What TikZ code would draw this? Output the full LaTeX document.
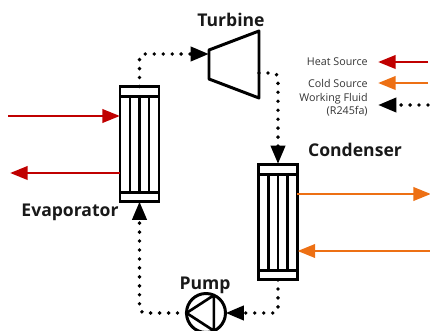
\documentclass[tikz,border=0pt]{standalone}
\usepackage{xcolor}
\usepackage{fontspec}
\setmainfont{Open Sans}
\usepackage{tikz}
\usetikzlibrary{arrows.meta,calc}
\definecolor{heatred}{HTML}{C00000}
\definecolor{coldorange}{HTML}{ED7014}
\tikzstyle{hxbox}=[draw,line width=1.7pt,minimum width=0.78cm,minimum height=2.3cm,inner sep=0pt,outer sep=0pt]
\tikzstyle{unit}=[font=\bfseries\fontsize{10}{12}\selectfont,text=black!90,inner sep=0pt]
\tikzstyle{legend}=[font=\fontsize{6.1}{7.2}\selectfont,text=black!80,align=right,anchor=east,inner sep=0pt]
\tikzstyle{heat}=[draw=heatred,line width=1.7pt,-{Triangle[length=10pt,width=7.5pt,fill=heatred]}]
\tikzstyle{cold}=[draw=coldorange,line width=1.7pt,-{Triangle[length=10pt,width=7.5pt,fill=coldorange]}]
\tikzstyle{fluid}=[draw=black,line width=2.2pt,line cap=round,dash pattern=on 0pt off 5.1pt,rounded corners=3pt,-{Triangle[length=10.5pt,width=8pt,fill=black,line cap=butt]}]
\begin{document}
\begin{tikzpicture}[x=0.02cm,y=-0.02cm]
\useasboundingbox (0,0) rectangle (430,331);

\node[hxbox] (evap) at (139.5,144) {};
\node[hxbox,minimum height=2.32cm] (cond) at (278,222) {};
\foreach \hx in {evap,cond} {
	\draw[line width=1.7pt] ($(\hx.north west)+(0,10)$) -- ($(\hx.north east)+(0,10)$);
	\draw[line width=1.7pt] ($(\hx.south west)+(0,-9)$) -- ($(\hx.south east)+(0,-9)$);
	\foreach \dx in {10,19.5,29}
		\draw[line width=1.5pt] ($(\hx.north west)+(\dx,10)$) -- ($(\hx.south west)+(\dx,-9)$);
}

% turbine
\coordinate (t1) at (209,50);
\coordinate (t2) at (259,31);
\coordinate (t3) at (259,98);
\coordinate (t4) at (209,79);
\draw[line width=1.7pt,line join=round] (t1) -- (t2) -- (t3) -- (t4) -- cycle;
\coordinate (turbin) at (209,54);
\coordinate (turbout) at (259,73);

% pump
\node[draw,circle,line width=1.7pt,minimum size=0.78cm,inner sep=0pt,outer sep=0pt] (pump) at (206,313) {};
\draw[line width=1.5pt,line join=round] (pump.west) -- (pump.66) -- (pump.-66) -- cycle;

% labels
\node[unit] (turblabel) at (231,20) {Turbine};
\node[unit] (condlabel) at (355,150) {Condenser};
\node[unit] (evaplabel) at (70,212) {Evaporator};
\node[unit] (pumplabel) at (205,285) {Pump};

% working fluid
\draw[fluid] (evap.north) |- (turbin);
\draw[fluid] (turbout) -| (cond.north);
\draw[fluid] (cond.south) |- (pump.east);
\draw[fluid] (pump.west) -| (evap.south);

% heat source and cold source
\coordinate (heatin) at (8,116);
\coordinate (heatout) at (10,173);
\coordinate (coldout) at (431,194);
\coordinate (coldin) at (431,251);
\draw[heat] (heatin) -- (heatin -| evap.west);
\draw[heat] (heatout -| evap.west) -- (heatout);
\draw[cold] (coldout -| cond.east) -- (coldout);
\draw[cold] (coldin) -- (coldin -| cond.east);

% legend
\node[legend] (heatlabel) at (368,62) {Heat Source};
\node[legend] (coldlabel) at (368,83) {Cold Source};
\node[legend] (fluidlabel) at (368,105) {Working Fluid\\(R245fa)};
\coordinate (heatkey) at (428,62);
\coordinate (coldkey) at (428,83);
\coordinate (fluidkey) at (428,105);
\draw[heat] (heatkey) -- (378,62);
\draw[cold] (coldkey) -- (378,83);
\draw[fluid] (fluidkey) -- (378,105);

\end{tikzpicture}
\end{document}
